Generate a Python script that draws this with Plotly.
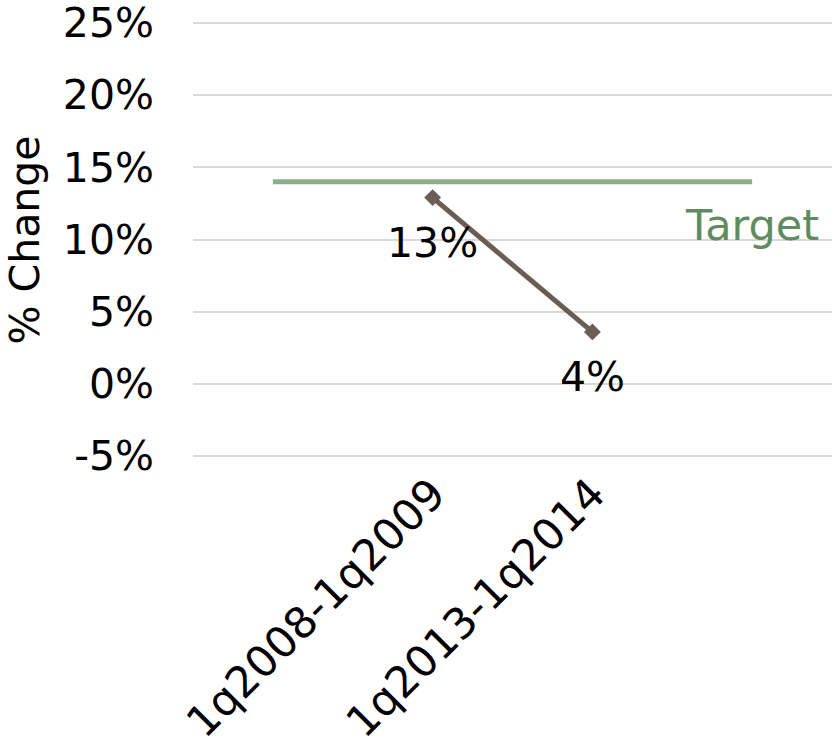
import plotly.graph_objects as go

categories = ["1q2008-1q2009", "1q2013-1q2014"]
cat_pos = [1, 2]
change_values = [12.9, 3.6]
change_labels = ["13%", "4%"]
target_pos = [0, 3]
target_values = [14, 14]
target_label = "Target"
y_title = "% Change"
y_ticks = [-5, 0, 5, 10, 15, 20, 25]
y_tick_labels = ["-5%", "0%", "5%", "10%", "15%", "20%", "25%"]

FONT = "DejaVu Sans, sans-serif"
FS = 41

fig = go.Figure()
fig.add_trace(go.Scatter(
    x=target_pos, y=target_values, mode="lines",
    line=dict(color="#8db08a", width=5), hoverinfo="skip", showlegend=False,
))
fig.add_trace(go.Scatter(
    x=cat_pos, y=change_values, mode="lines+markers",
    line=dict(color="#6b5d55", width=5),
    marker=dict(symbol="diamond", size=13, color="#6b5d55"),
    showlegend=False,
))
for xv, yv, lab in zip(cat_pos, change_values, change_labels):
    fig.add_annotation(
        x=xv, y=yv, text=lab, showarrow=False, xanchor="center",
        yanchor="middle", yshift=-45,
        font=dict(family=FONT, size=FS, color="#000000"),
    )
fig.add_annotation(
    x=target_pos[1], y=11.0, text=target_label, showarrow=False,
    xanchor="center", yanchor="middle",
    font=dict(family=FONT, size=43, color="#5e8c5e"),
)
fig.add_annotation(
    xref="paper", yref="paper", x=-0.263, y=0.5, text=y_title,
    showarrow=False, textangle=-90, xanchor="center", yanchor="middle",
    font=dict(family=FONT, size=FS, color="#000000"),
)
fig.update_layout(
    width=832, height=754,
    margin=dict(l=193, r=0, t=20, b=295, autoexpand=False),
    paper_bgcolor="white", plot_bgcolor="white",
    font=dict(family=FONT, color="#000000"),
    xaxis=dict(
        range=[-0.5, 3.5], tickvals=cat_pos, ticktext=categories,
        tickangle=-45, tickfont=dict(family=FONT, size=43),
        showgrid=False, zeroline=False, showline=False, ticks="",
        ticklabeloverflow="allow", automargin=False,
    ),
    yaxis=dict(
        range=[-5.2, 25.2], tickvals=y_ticks, ticktext=y_tick_labels,
        tickfont=dict(family=FONT, size=FS), gridcolor="#d9d9d9", gridwidth=2,
        zeroline=False, showline=False, ticks="", ticklabelstandoff=38,
        ticklabeloverflow="allow", automargin=False,
    ),
)
fig.write_html(
    "out.html",
    config={"displayModeBar": False},
    post_script="document.body.style.margin='0';document.body.style.overflow='hidden';",
)
